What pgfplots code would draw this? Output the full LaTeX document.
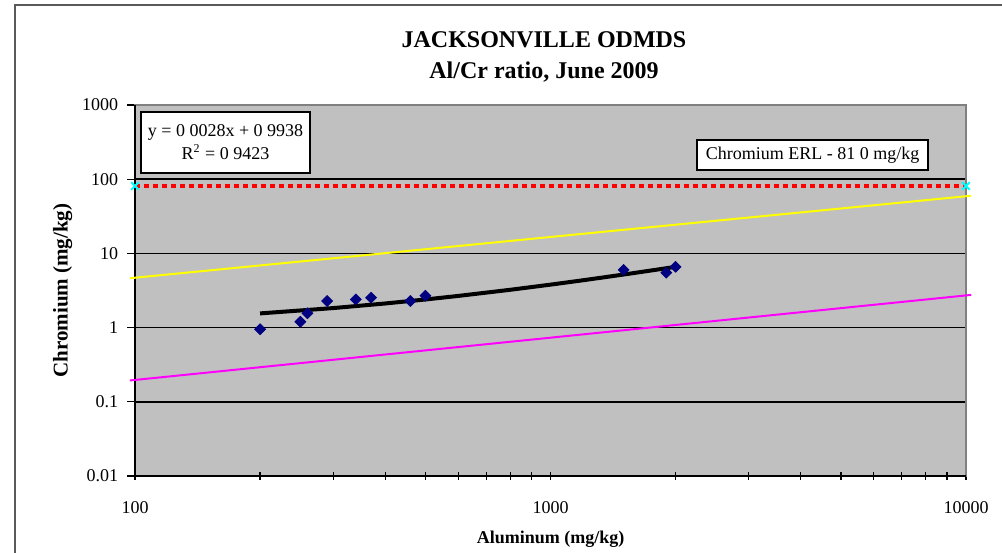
\documentclass[border=0pt]{standalone}
\usepackage{fontspec}
\setmainfont{Liberation Serif}
\usepackage{pgfplots}
\pgfplotsset{compat=1.18}
\definecolor{plotgray}{HTML}{C0C0C0}
\definecolor{framegray}{HTML}{5A5A5A}
\definecolor{navy}{HTML}{000080}
\definecolor{upperline}{HTML}{FFFF00}
\definecolor{lowerline}{HTML}{FF00FF}
\definecolor{endmark}{HTML}{00FFFF}
\definecolor{erlred}{HTML}{FF0000}

\begin{document}
\begin{tikzpicture}
% outer chart frame
\draw[framegray, line width=0.8pt] (7.5pt,-2.5pt) rectangle (550pt,-350pt);

% titles
\node[font=\bfseries\fontsize{12}{14}\selectfont] at (272pt,-20pt) {JACKSONVILLE ODMDS};
\node[font=\bfseries\fontsize{12}{14}\selectfont] at (272pt,-36pt) {Al/Cr ratio, June 2009};

\begin{axis}[
  at={(67.5pt,-238pt)}, anchor=south west,
  scale only axis, width=415.5pt, height=185.5pt,
  xmode=log, ymode=log,
  xmin=100, xmax=10000, ymin=0.01, ymax=1000,
  clip=false,
  axis background/.style={fill=plotgray},
  axis line style={draw=gray, line width=0.6pt},
  xtick={100,1000,10000}, xticklabels={100,1000,10000},
  ytick={0.01,0.1,1,10,100,1000}, yticklabels={0.01,0.1,1,10,100,1000},
  yminorticks=false,
  tick pos=left,
  xtick align=center, ytick align=outside,
  major tick length=4pt, minor tick length=4pt,
  tick style={black, line width=0.6pt},
  ymajorgrids, grid style={black, line width=0.8pt},
  ticklabel style={font=\fontsize{9}{11}\selectfont},
  xticklabel style={yshift=-7pt},
  yticklabel style={xshift=-1pt},
  xlabel={Aluminum (mg/kg)}, ylabel={Chromium (mg/kg)},
  xlabel style={font=\bfseries\fontsize{9}{11}\selectfont, yshift=-2pt},
  ylabel style={font=\bfseries\fontsize{10.5}{12}\selectfont, yshift=-2pt},
]
% left and bottom axis lines
\draw[black, line width=0.8pt] (rel axis cs:0,1) -- (rel axis cs:0,0) -- (rel axis cs:1,0);

% upper and lower ratio bounds
\addplot[upperline, line width=1pt, no marks] coordinates {(97.2,4.63) (10290,59.9)};
\addplot[lowerline, line width=1pt, no marks] coordinates {(97.2,0.194) (10290,2.76)};

% Chromium ERL
\addplot[erlred, line width=2pt, dash pattern=on 2.5pt off 2pt, no marks] coordinates {(100,81) (10000,81)};
\addplot[endmark, only marks, mark=x, mark size=2.7pt, line width=0.9pt] coordinates {(100,81) (10000,81)};

% linear trend line y = 0.0028x + 0.9938
\addplot[black, line width=2pt, no marks] coordinates {
  (200,1.5538) (300,1.8338) (400,2.1138) (500,2.3938) (600,2.6738)
  (800,3.2338) (1000,3.7938) (1200,4.3538) (1400,4.9138) (1600,5.4738)
  (1800,6.0338) (2000,6.5938)};

% samples
\addplot[only marks, mark=square*, mark size=1.9pt, navy,
  every mark/.append style={rotate=45}] coordinates {
  (200,0.95) (250,1.2) (260,1.56) (290,2.28) (340,2.4) (370,2.53)
  (460,2.28) (500,2.69) (1500,6.0) (1900,5.5) (2000,6.6)};
\end{axis}

% annotation boxes
\node[draw=black, fill=white, line width=0.8pt, minimum width=84.5pt, minimum height=30.5pt,
  align=center, font=\fontsize{9}{11.5}\selectfont, inner sep=1pt] at (112.75pt,-71.25pt)
  {y = 0 0028x + 0 9938\\R\textsuperscript{2} = 0 9423};
\node[draw=black, fill=white, line width=0.8pt, minimum width=115.5pt, minimum height=15pt,
  font=\fontsize{9}{11}\selectfont, inner sep=1pt] at (406.25pt,-77.5pt)
  {Chromium ERL - 81 0 mg/kg};

\pgfresetboundingbox
\path[use as bounding box] (0pt,0pt) rectangle (501pt,-276pt);
\end{tikzpicture}
\end{document}
